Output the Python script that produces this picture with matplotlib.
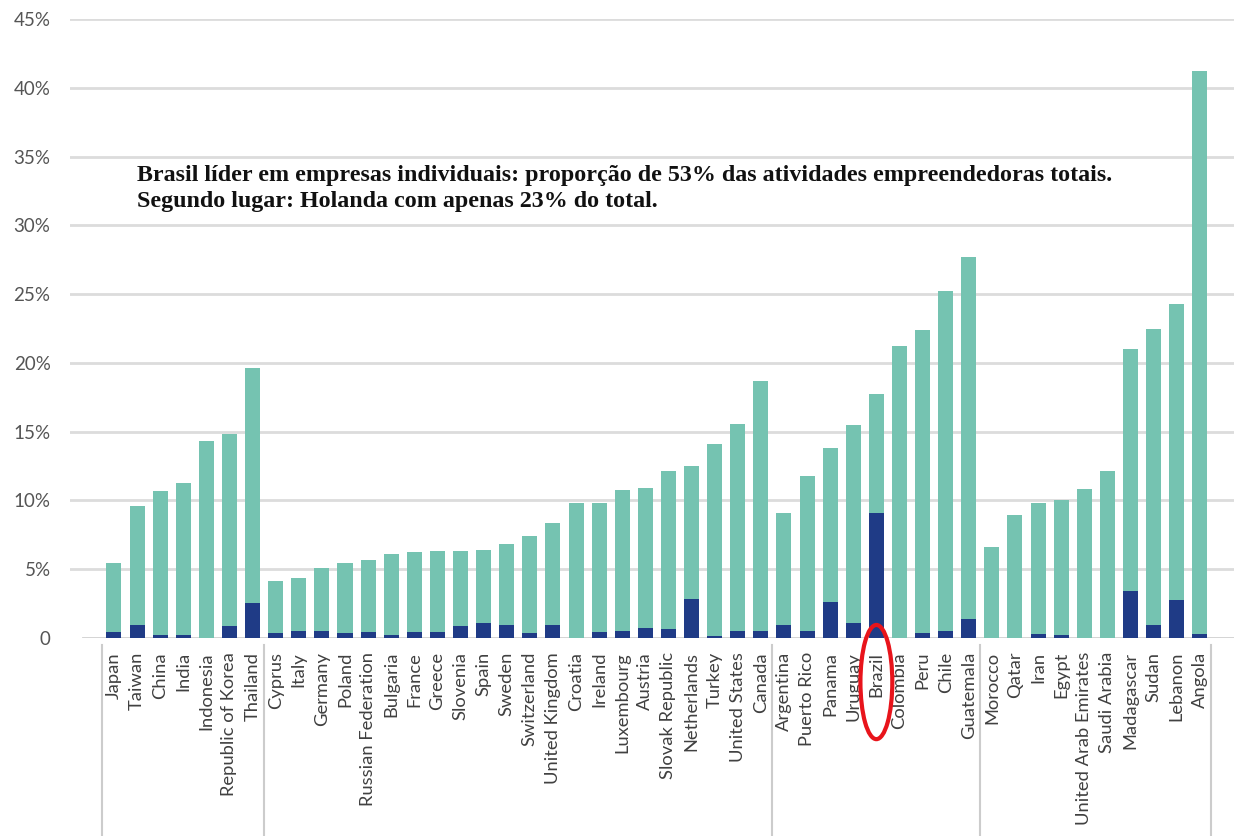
import numpy as np
import matplotlib
matplotlib.use("Agg")
import matplotlib.pyplot as plt
from matplotlib.patches import Ellipse
import matplotlib.transforms as mtransforms

# country order as grouped by region
countries = ["Japan", "Taiwan", "China", "India", "Indonesia", "Republic of Korea", "Thailand",
             "Cyprus", "Italy", "Germany", "Poland", "Russian Federation", "Bulgaria", "France",
             "Greece", "Slovenia", "Spain", "Sweden", "Switzerland", "United Kingdom", "Croatia",
             "Ireland", "Luxembourg", "Austria", "Slovak Republic", "Netherlands", "Turkey",
             "United States", "Canada",
             "Argentina", "Puerto Rico", "Panama", "Uruguay", "Brazil", "Colombia", "Peru",
             "Chile", "Guatemala",
             "Morocco", "Qatar", "Iran", "Egypt", "United Arab Emirates", "Saudi Arabia",
             "Madagascar", "Sudan", "Lebanon", "Angola"]

# total early-stage activity (%)
total = [5.45, 9.6, 10.7, 11.3, 14.3, 14.8, 19.6,
         4.15, 4.4, 5.1, 5.45, 5.7, 6.1, 6.25, 6.3, 6.3, 6.4, 6.85, 7.4, 8.35, 9.8,
         9.8, 10.75, 10.9, 12.15, 12.5, 14.1, 15.55, 18.7,
         9.1, 11.8, 13.8, 15.5, 17.75, 21.25, 22.4, 25.2, 27.7,
         6.6, 8.95, 9.8, 10.0, 10.85, 12.15, 21.0, 22.5, 24.3, 41.2]

# solo entrepreneurs (%)
solo = [0.42, 0.95, 0.25, 0.2, 0.0, 0.88, 2.57,
        0.35, 0.54, 0.54, 0.35, 0.42, 0.25, 0.46, 0.46, 0.85, 1.07, 0.93, 0.37, 0.93, 0.0,
        0.46, 0.54, 0.7, 0.63, 2.83, 0.17, 0.54, 0.54,
        0.93, 0.54, 2.6, 1.1, 9.1, 0.0, 0.4, 0.54, 1.4,
        0.0, 0.0, 0.32, 0.25, 0.0, 0.0, 3.45, 0.93, 2.77, 0.32]

group_edges = [-0.5, 6.5, 28.5, 37.5, 47.5]
yticks = [0, 5, 10, 15, 20, 25, 30, 35, 40, 45]
ytick_labels = ["0"] + [f"{v}%" for v in yticks[1:]]

teal = "#75C3B1"
navy = "#1F3B86"
grid_gray = "#dcdcdc"

fig = plt.figure(figsize=(12.34, 8.36), dpi=100)
ax = fig.add_axes([0.0567, 0.2368, 0.9433, 0.7405])

x = np.arange(len(countries))
ax.bar(x, total, width=0.65, color=teal, zorder=2)
ax.bar(x, solo, width=0.65, color=navy, zorder=3)

ax.set_xlim(-1.905, 48.48)
ax.set_ylim(0, 45)
ax.set_yticks(yticks)
ax.set_yticklabels(ytick_labels, fontfamily="Lato", fontsize=13.5, color="#555555")
ax.set_xticks(x)
ax.set_xticklabels(countries, rotation=90, fontfamily="Lato", fontsize=13.2, color="#404040")
ax.tick_params(axis="both", length=0)
ax.tick_params(axis="y", pad=14)
ax.tick_params(axis="x", pad=10)
for s in ax.spines.values():
    s.set_visible(False)

for v in yticks[1:]:
    ax.axhline(v, color=grid_gray, lw=2, zorder=1)
ax.axhline(0, xmin=0.011, color="#d0d0d0", lw=2, zorder=1)

# region separators under the axis
trans = mtransforms.blended_transform_factory(ax.transData, ax.transAxes)
for e in group_edges:
    ax.plot([e, e], [-0.012, -0.33], transform=trans, color="#cccccc", lw=1.5, clip_on=False)

ax.text(1.0, 34.4,
        "Brasil líder em empresas individuais: proporção de 53% das atividades empreendedoras totais.\n"
        "Segundo lugar: Holanda com apenas 23% do total.",
        fontfamily="Liberation Serif", fontweight="bold", fontsize=17.3, color="#111111",
        va="top", ha="left", linespacing=1.35)

# highlight Brazil's label
brazil = countries.index("Brazil")
ax.add_patch(Ellipse((brazil, -3.2), width=1.38, height=8.3, fill=False,
                     edgecolor="#E8141B", lw=3, clip_on=False, zorder=5))

fig.savefig("out.png", dpi=100)
